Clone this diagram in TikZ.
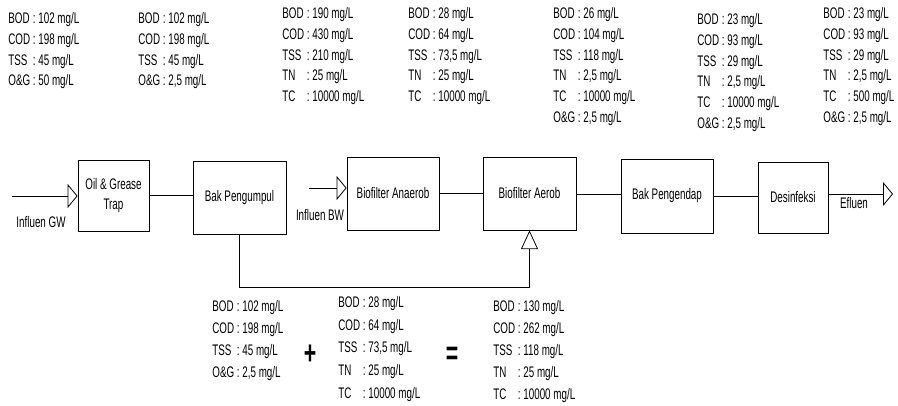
\documentclass[tikz,border=0pt]{standalone}
\usepackage{fontspec}
\newfontfamily\narrowfont[FakeStretch=0.64]{Liberation Sans}
\usetikzlibrary{arrows.meta,positioning}

\begin{document}
\begin{tikzpicture}[x=0.75pt, y=-0.75pt, line width=0.6pt,
  every node/.style={font=\narrowfont\fontsize{11.5pt}{15.5pt}\selectfont},
  bx/.style={draw, minimum width=69pt, minimum height=54.75pt, align=center, inner sep=2pt},
  vals/.style={anchor=north west, inner sep=0pt},
  inarr/.style={-{Triangle[open, length=7.5pt, width=18pt]}},
  uparr/.style={-{Triangle[open, length=14pt, width=12.75pt]}},
  sign/.style={font=\narrowfont\bfseries\fontsize{25pt}{25pt}\selectfont}]
\useasboundingbox (0,0) rectangle (898,406);
% Flow
\node[bx, minimum width=53.25pt, minimum height=53.25pt] (trap) at (113.5,195.5) {Oil \& Grease\\Trap};
\node[bx, minimum width=69.75pt] (pengumpul) at (239.5,197.5) {Bak Pengumpul};
\node[bx] (anaerob) at (393,193.5) {Biofilter Anaerob};
\node[bx, minimum width=69.75pt] (aerob) at (529.5,193.5) {Biofilter Aerob};
\node[bx, minimum height=55.5pt] (pengendap) at (667,196) {Bak Pengendap};
\node[bx, minimum width=52.5pt, minimum height=53.25pt] (desinfeksi) at (793,197.5) {Desinfeksi};
% In / out
\coordinate (gwin) at (12,196);
\coordinate (bwin) at (309,188);
\coordinate (efout) at (893,194);
\node (gwlbl) at (41,222) {Influen GW};
\node (bwlbl) at (320,215) {Influen BW};
\node (eflbl) at (854,203) {Efluen};
% Arrows
\draw[inarr] (gwin) -- (gwin -| trap.west);
\draw (trap.east) -- (trap.east -| pengumpul.west);
\draw[inarr] (bwin) -- (bwin -| anaerob.west);
\draw (anaerob.east) -- (anaerob.east -| aerob.west);
\draw (aerob.east |- 0,194) -- (pengendap.west |- 0,194);
\draw (pengendap.east |- 0,196) -- (desinfeksi.west |- 0,196);
\draw[inarr] (desinfeksi.east |- efout) -- (efout);
\draw[uparr] (pengumpul.south) -- ++(0,53) -| (aerob.south);
% Quality above the units
\node[vals] (qgw) at (8,9) {\begin{tabular}{@{}l@{\ :\ }l@{}}
  BOD & 102 mg/L\\ COD & 198 mg/L\\ TSS & 45 mg/L\\ O\&G & 50 mg/L\end{tabular}};
\node[vals] (qtrap) at (138,9) {\begin{tabular}{@{}l@{\ :\ }l@{}}
  BOD & 102 mg/L\\ COD & 198 mg/L\\ TSS & 45 mg/L\\ O\&G & 2,5 mg/L\end{tabular}};
\node[vals] (qbw) at (282,4) {\begin{tabular}{@{}l@{\ :\ }l@{}}
  BOD & 190 mg/L\\ COD & 430 mg/L\\ TSS & 210 mg/L\\ TN & 25 mg/L\\ TC & 10000 mg/L\end{tabular}};
\node[vals] (qanaerob) at (408,4) {\begin{tabular}{@{}l@{\ :\ }l@{}}
  BOD & 28 mg/L\\ COD & 64 mg/L\\ TSS & 73,5 mg/L\\ TN & 25 mg/L\\ TC & 10000 mg/L\end{tabular}};
\node[vals] (qaerob) at (553,4) {\begin{tabular}{@{}l@{\ :\ }l@{}}
  BOD & 26 mg/L\\ COD & 104 mg/L\\ TSS & 118 mg/L\\ TN & 2,5 mg/L\\ TC & 10000 mg/L\\ O\&G & 2,5 mg/L\end{tabular}};
\node[vals] (qpengendap) at (697,10) {\begin{tabular}{@{}l@{\ :\ }l@{}}
  BOD & 23 mg/L\\ COD & 93 mg/L\\ TSS & 29 mg/L\\ TN & 2,5 mg/L\\ TC & 10000 mg/L\\ O\&G & 2,5 mg/L\end{tabular}};
\node[vals] (qefluen) at (823,4) {\begin{tabular}{@{}l@{\ :\ }l@{}}
  BOD & 23 mg/L\\ COD & 93 mg/L\\ TSS & 29 mg/L\\ TN & 2,5 mg/L\\ TC & 500 mg/L\\ O\&G & 2,5 mg/L\end{tabular}};
% Mixing below
\node[vals] (mixa) at (212,296) {\renewcommand\arraystretch{1.06}\begin{tabular}{@{}l@{\ :\ }l@{}}
  BOD & 102 mg/L\\ COD & 198 mg/L\\ TSS & 45 mg/L\\ O\&G & 2,5 mg/L\end{tabular}};
\node[sign] (plus) at (310,355) {+};
\node[vals] (mixb) at (338,291) {\renewcommand\arraystretch{1.1}\begin{tabular}{@{}l@{\ :\ }l@{}}
  BOD & 28 mg/L\\ COD & 64 mg/L\\ TSS & 73,5 mg/L\\ TN & 25 mg/L\\ TC & 10000 mg/L\end{tabular}};
\node[sign] (equals) at (452,356) {=};
\node[vals] (mixsum) at (493,296) {\renewcommand\arraystretch{1.06}\begin{tabular}{@{}l@{\ :\ }l@{}}
  BOD & 130 mg/L\\ COD & 262 mg/L\\ TSS & 118 mg/L\\ TN & 25 mg/L\\ TC & 10000 mg/L\end{tabular}};
\end{tikzpicture}
\end{document}
